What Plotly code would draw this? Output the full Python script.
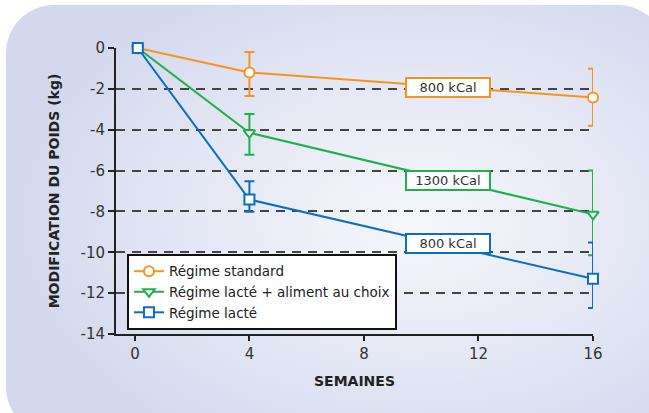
import plotly.graph_objects as go
import base64

# ---------------- data ----------------
weeks = [0.1, 4, 16]
std_y = [0, -1.2, -2.42]
std_up = [0, 1.0, 1.41]
std_dn = [0, 1.15, 1.39]

mix_y = [0, -4.15, -8.14]
mix_up = [0, 0.92, 2.14]
mix_dn = [0, 1.08, 2.0]

milk_y = [0, -7.42, -11.3]
milk_up = [0, 0.9, 1.78]
milk_dn = [0, 0.6, 1.43]

series_names = ["Régime standard", "Régime lacté + aliment au choix", "Régime lacté"]
label_texts = ["800 kCal", "1300 kCal", "800 kCal"]
label_x = [10.95, 10.95, 10.95]
label_y = [-1.92, -6.47, -9.57]

x_ticks = [0, 4, 8, 12, 16]
y_ticks = [0, -2, -4, -6, -8, -10, -12, -14]

ORANGE = "#f7941d"
GREEN = "#1fb14b"
BLUE = "#0b6fbf"
FONT = "DejaVu Sans"

W, H = 649, 413
L, R, T, B = 116, 56, 48, 79

fig = go.Figure()

def add(name, y, up, dn, color, symbol):
    fig.add_trace(go.Scatter(
        x=weeks, y=y, name=name, mode="lines+markers",
        line=dict(color=color, width=2),
        marker=dict(symbol=symbol, size=10, color="white",
                    line=dict(color=color, width=2)),
        error_y=dict(type="data", symmetric=False, array=up, arrayminus=dn,
                     color=color, thickness=2, width=5),
        cliponaxis=False,
    ))

add(series_names[0], std_y, std_up, std_dn, ORANGE, "circle")
add(series_names[1], mix_y, mix_up, mix_dn, GREEN, "triangle-down")
add(series_names[2], milk_y, milk_up, milk_dn, BLUE, "square")

for txt, lx, ly, c in zip(label_texts, label_x, label_y, [ORANGE, GREEN, BLUE]):
    fig.add_annotation(x=lx, y=ly, text=txt, showarrow=False,
                       font=dict(family=FONT, size=13, color="#333333"),
                       bgcolor="white", bordercolor=c, borderwidth=2,
                       borderpad=1, width=80)

# background rounded rect with radial gradient
svg = f'''<svg xmlns="http://www.w3.org/2000/svg" width="{W}" height="{H}" viewBox="0 0 {W} {H}">
<defs><radialGradient id="g" cx="0.62" cy="0.5" r="0.62">
<stop offset="0" stop-color="#f6f7fb"/><stop offset="0.55" stop-color="#e4e7f4"/><stop offset="1" stop-color="#d3d8ed"/>
</radialGradient></defs>
<rect x="6" y="5" width="660" height="430" rx="48" ry="48" fill="url(#g)"/>
</svg>'''
uri = "data:image/svg+xml;base64," + base64.b64encode(svg.encode()).decode()
pw, ph = W - L - R, H - T - B
fig.add_layout_image(dict(source=uri, xref="paper", yref="paper",
                          x=-L / pw, y=1 + T / ph, sizex=W / pw, sizey=H / ph,
                          xanchor="left", yanchor="top", sizing="stretch",
                          layer="below"))

fig.update_layout(
    width=W, height=H,
    margin=dict(l=L, r=R, t=T, b=B),
    paper_bgcolor="white", plot_bgcolor="rgba(0,0,0,0)",
    font=dict(family=FONT, size=13, color="#222222"),
    showlegend=True,
    legend=dict(x=0.023, y=0.28, xanchor="left", yanchor="top",
                bgcolor="white", bordercolor="#111111", borderwidth=2,
                font=dict(family=FONT, size=13.5, color="#222222"),
                tracegroupgap=0, itemwidth=30),
    xaxis=dict(range=[-0.66, 16], tickvals=x_ticks, ticktext=[str(v) for v in x_ticks],
               showgrid=False, zeroline=False, showline=True, linecolor="#222222",
               linewidth=2, ticks="outside", ticklen=5, tickwidth=2, tickcolor="#222222",
               tickfont=dict(size=15, color="#333333"),
               title=dict(text="<b>SEMAINES</b>", font=dict(size=14, color="#222222"), standoff=14)),
    yaxis=dict(range=[-14, 0], tickvals=y_ticks, ticktext=[str(v) for v in y_ticks],
               showgrid=True, gridcolor="#444444", griddash="9px,7px", gridwidth=1.5,
               zeroline=False, showline=True, linecolor="#222222", linewidth=2,
               ticks="outside", ticklen=6, tickwidth=2, tickcolor="#222222",
               tickfont=dict(size=15, color="#333333"),
               title=dict(text="<b>MODIFICATION DU POIDS (kg)</b>", font=dict(size=14, color="#222222"), standoff=18)),
)

fig.write_html("out.html", config={"displayModeBar": False},
               post_script="document.body.style.margin='0';")
